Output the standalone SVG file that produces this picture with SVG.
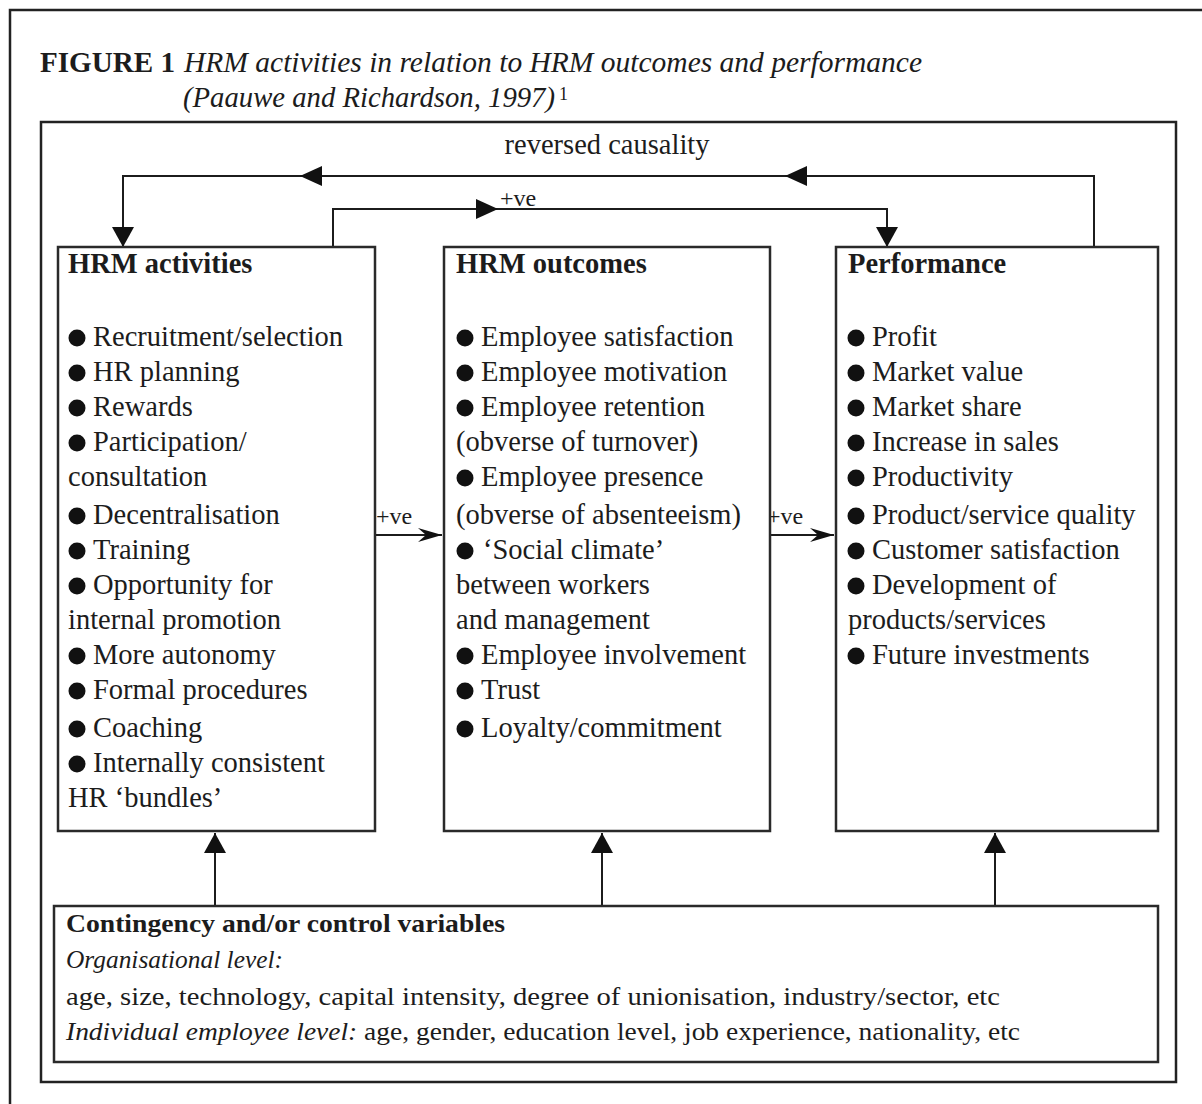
<svg xmlns="http://www.w3.org/2000/svg" width="1202" height="1104" viewBox="0 0 1202 1104">
  <style>
    text { font-family: "Liberation Serif", "Times New Roman", serif; font-size: 28.5px; fill: #1c1c1c; }
    .b { font-weight: bold; }
    .i { font-style: italic; }
    .lbl { font-size: 24px; }
    .small { font-size: 26px; }
    .dot { fill: #111; }
    .frame { fill: none; stroke: #222; stroke-width: 2.5; }
    .box { fill: #fff; stroke: #2a2a2a; stroke-width: 2.5; }
    .line { fill: none; stroke: #1c1c1c; stroke-width: 2; }
    .head { fill: #111; }
  </style>
  <defs>
    <marker id="tri" viewBox="0 0 20 22" refX="20" refY="11" markerWidth="20" markerHeight="22" markerUnits="userSpaceOnUse" orient="auto">
      <path d="M0,0 L20,11 L0,22 Z" fill="#111"/>
    </marker>
    <marker id="barb" viewBox="0 0 24 14" refX="24" refY="7" markerWidth="24" markerHeight="14" markerUnits="userSpaceOnUse" orient="auto">
      <path d="M0,0 L24,7 L0,14 L8,7 Z" fill="#111"/>
    </marker>
  </defs>

  <rect width="1202" height="1104" fill="#fff"/>

  <!-- page border and figure frame -->
  <path class="frame" d="M10,1110 V10 H1210"/>
  <rect class="frame" x="41" y="122" width="1135" height="960"/>

  <!-- caption -->
  <g id="caption">
    <text x="40" y="72"><tspan class="b" textLength="135" lengthAdjust="spacingAndGlyphs">FIGURE 1</tspan><tspan class="i" x="184" textLength="738" lengthAdjust="spacingAndGlyphs">HRM activities in relation to HRM outcomes and performance</tspan></text>
    <text class="i" x="183" y="107" textLength="372" lengthAdjust="spacingAndGlyphs">(Paauwe and Richardson, 1997)</text>
    <text x="559" y="100" style="font-size:18px">1</text>
  </g>

  <!-- connectors -->
  <g id="connectors">
    <!-- reversed causality loop -->
    <path class="line" d="M1094,247 V176 H123 V247" marker-end="url(#tri)"/>
    <polygon class="head" points="300,176 322,166 322,186"/>
    <polygon class="head" points="785,176 807,166 807,186"/>
    <text x="607" y="154" text-anchor="middle" textLength="205" lengthAdjust="spacingAndGlyphs">reversed causality</text>

    <!-- activities to performance (+ve) -->
    <path class="line" d="M333,247 V209 H887 V247" marker-end="url(#tri)"/>
    <polygon class="head" points="498,209 476,199 476,219"/>
    <text class="lbl" x="500" y="206">+ve</text>

    <!-- activities to outcomes, outcomes to performance -->
    <path class="line" d="M375,535 H442" marker-end="url(#barb)"/>
    <text class="lbl" x="376" y="524">+ve</text>
    <path class="line" d="M765,535 H834" marker-end="url(#barb)"/>
    <text class="lbl" x="767" y="524">+ve</text>

    <!-- contingency variables to each box -->
    <path class="line" d="M215,906 V833" marker-end="url(#tri)"/>
    <path class="line" d="M602,906 V833" marker-end="url(#tri)"/>
    <path class="line" d="M995,906 V833" marker-end="url(#tri)"/>
  </g>

  <!-- HRM activities -->
  <g id="hrm-activities">
    <rect class="box" x="58" y="247" width="317" height="584"/>
    <text class="b" x="68" y="273">HRM activities</text>
    <g class="dot">
      <circle cx="77" cy="338" r="8.5"/><circle cx="77" cy="373" r="8.5"/>
      <circle cx="77" cy="408" r="8.5"/><circle cx="77" cy="443" r="8.5"/>
      <circle cx="77" cy="516" r="8.5"/><circle cx="77" cy="551" r="8.5"/>
      <circle cx="77" cy="586" r="8.5"/><circle cx="77" cy="656" r="8.5"/>
      <circle cx="77" cy="691" r="8.5"/><circle cx="77" cy="729" r="8.5"/>
      <circle cx="77" cy="764" r="8.5"/>
    </g>
    <text x="93" y="346">Recruitment/selection</text>
    <text x="93" y="381">HR planning</text>
    <text x="93" y="416">Rewards</text>
    <text x="93" y="451">Participation/</text>
    <text x="68" y="486">consultation</text>
    <text x="93" y="524">Decentralisation</text>
    <text x="93" y="559">Training</text>
    <text x="93" y="594">Opportunity for</text>
    <text x="68" y="629">internal promotion</text>
    <text x="93" y="664">More autonomy</text>
    <text x="93" y="699">Formal procedures</text>
    <text x="93" y="737">Coaching</text>
    <text x="93" y="772">Internally consistent</text>
    <text x="68" y="807">HR ‘bundles’</text>
  </g>

  <!-- HRM outcomes -->
  <g id="hrm-outcomes">
    <rect class="box" x="444" y="247" width="326" height="584"/>
    <text class="b" x="456" y="273">HRM outcomes</text>
    <g class="dot">
      <circle cx="465" cy="338" r="8.5"/><circle cx="465" cy="373" r="8.5"/>
      <circle cx="465" cy="408" r="8.5"/><circle cx="465" cy="478" r="8.5"/>
      <circle cx="465" cy="551" r="8.5"/><circle cx="465" cy="656" r="8.5"/>
      <circle cx="465" cy="691" r="8.5"/><circle cx="465" cy="729" r="8.5"/>
    </g>
    <text x="481" y="346">Employee satisfaction</text>
    <text x="481" y="381">Employee motivation</text>
    <text x="481" y="416">Employee retention</text>
    <text x="456" y="451">(obverse of turnover)</text>
    <text x="481" y="486">Employee presence</text>
    <text x="456" y="524">(obverse of absenteeism)</text>
    <text x="483" y="559">‘Social climate’</text>
    <text x="456" y="594">between workers</text>
    <text x="456" y="629">and management</text>
    <text x="481" y="664">Employee involvement</text>
    <text x="481" y="699">Trust</text>
    <text x="481" y="737">Loyalty/commitment</text>
  </g>

  <!-- Performance -->
  <g id="performance">
    <rect class="box" x="836" y="247" width="322" height="584"/>
    <text class="b" x="848" y="273">Performance</text>
    <g class="dot">
      <circle cx="856" cy="338" r="8.5"/><circle cx="856" cy="373" r="8.5"/>
      <circle cx="856" cy="408" r="8.5"/><circle cx="856" cy="443" r="8.5"/>
      <circle cx="856" cy="478" r="8.5"/><circle cx="856" cy="516" r="8.5"/>
      <circle cx="856" cy="551" r="8.5"/><circle cx="856" cy="586" r="8.5"/>
      <circle cx="856" cy="656" r="8.5"/>
    </g>
    <text x="872" y="346">Profit</text>
    <text x="872" y="381">Market value</text>
    <text x="872" y="416">Market share</text>
    <text x="872" y="451">Increase in sales</text>
    <text x="872" y="486">Productivity</text>
    <text x="872" y="524">Product/service quality</text>
    <text x="872" y="559">Customer satisfaction</text>
    <text x="872" y="594">Development of</text>
    <text x="848" y="629">products/services</text>
    <text x="872" y="664">Future investments</text>
  </g>

  <!-- Contingency and/or control variables -->
  <g id="contingency">
    <rect class="box" x="54" y="906" width="1104" height="156"/>
    <text class="b small" x="66" y="932" textLength="439" lengthAdjust="spacingAndGlyphs">Contingency and/or control variables</text>
    <text class="i small" x="66" y="968" textLength="217" lengthAdjust="spacingAndGlyphs">Organisational level:</text>
    <text class="small" x="66" y="1005" textLength="934" lengthAdjust="spacingAndGlyphs">age, size, technology, capital intensity, degree of unionisation, industry/sector, etc</text>
    <text class="small" x="66" y="1040" textLength="954" lengthAdjust="spacingAndGlyphs"><tspan class="i">Individual employee level:</tspan> age, gender, education level, job experience, nationality, etc</text>
  </g>
</svg>
